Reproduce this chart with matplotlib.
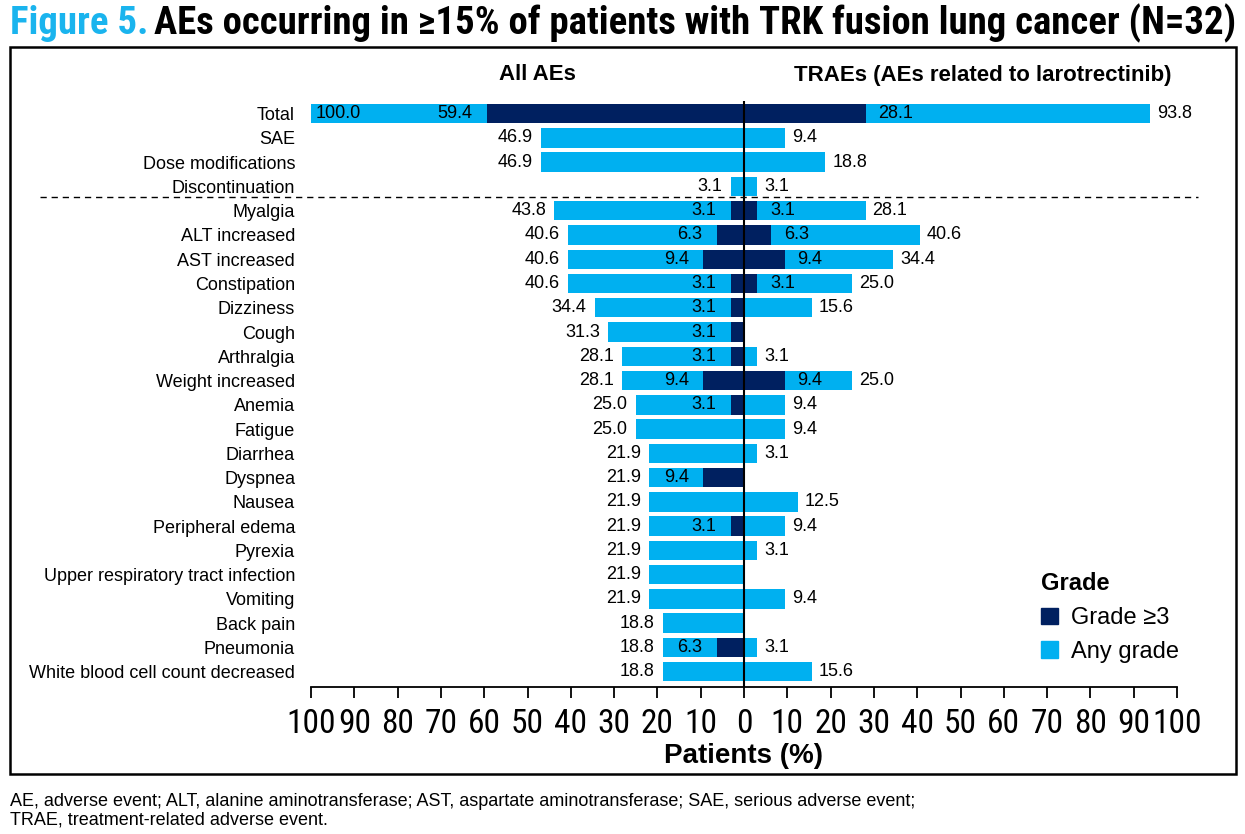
"""Recreate Figure 5: butterfly bar chart of AEs in TRK fusion lung cancer."""

import matplotlib
matplotlib.use("Agg")
import matplotlib.pyplot as plt
from matplotlib import font_manager
from matplotlib.patches import Rectangle, Patch


CATEGORIES = [
    "Total", "SAE", "Dose modifications", "Discontinuation",
    "Myalgia", "ALT increased", "AST increased", "Constipation",
    "Dizziness", "Cough", "Arthralgia", "Weight increased", "Anemia",
    "Fatigue", "Diarrhea", "Dyspnea", "Nausea", "Peripheral edema",
    "Pyrexia", "Upper respiratory tract infection", "Vomiting",
    "Back pain", "Pneumonia", "White blood cell count decreased",
]
ALL_ANY = [100.0, 46.9, 46.9, 3.1, 43.8, 40.6, 40.6, 40.6, 34.4, 31.3, 28.1,
           28.1, 25.0, 25.0, 21.9, 21.9, 21.9, 21.9, 21.9, 21.9, 21.9,
           18.8, 18.8, 18.8]
ALL_G3 = [59.4, 0, 0, 0, 3.1, 6.3, 9.4, 3.1, 3.1, 3.1, 3.1, 9.4, 3.1, 0, 0,
          9.4, 0, 3.1, 0, 0, 0, 0, 6.3, 0]
TR_ANY = [93.8, 9.4, 18.8, 3.1, 28.1, 40.6, 34.4, 25.0, 15.6, 0, 3.1, 25.0,
          9.4, 9.4, 3.1, 0, 12.5, 9.4, 3.1, 0, 9.4, 0, 3.1, 15.6]
TR_G3 = [28.1, 0, 0, 0, 3.1, 6.3, 9.4, 3.1, 0, 0, 0, 9.4, 0, 0, 0, 0, 0, 0,
         0, 0, 0, 0, 0, 0]
TICKS = list(range(-100, 101, 10))
TITLE_HEAD = "Figure 5."
TITLE_REST = "AEs occurring in \u226515% of patients with TRK fusion lung cancer (N=32)"

LIGHT = "#00B0F0"
DARK = "#002060"
TITLE_BLUE = "#1AB4EE"
REGULAR = ["Liberation Sans", "DejaVu Sans"]

installed = {f.name for f in font_manager.fontManager.ttflist}
if "Liberation Sans Narrow" in installed:
    NARROW = ["Liberation Sans Narrow", "DejaVu Sans"]
elif "Roboto Condensed" in installed:
    NARROW = ["Roboto Condensed", "DejaVu Sans"]
else:
    NARROW = REGULAR

plt.rcParams["font.family"] = REGULAR

W, H = 1245, 834
fig = plt.figure(figsize=(12.45, 8.34), dpi=100)
ax = fig.add_axes([311 / W, 1 - 687 / H, 866 / W, 586 / H])

y = list(range(len(CATEGORIES)))
height = 0.8
ax.barh(y, [-v for v in ALL_ANY], height=height, color=LIGHT)
ax.barh(y, [-v for v in ALL_G3], height=height, color=DARK)
ax.barh(y, TR_ANY, height=height, color=LIGHT)
ax.barh(y, TR_G3, height=height, color=DARK)

label_kw = dict(fontsize=13, va="center", textcoords="offset points")
for i in y:
    if ALL_ANY[i] >= 100:
        ax.annotate(f"{ALL_ANY[i]:.1f}", (-ALL_ANY[i], i), xytext=(3, 0),
                    ha="left", **label_kw)
    else:
        ax.annotate(f"{ALL_ANY[i]:.1f}", (-ALL_ANY[i], i), xytext=(-6, 0),
                    ha="right", **label_kw)
    if ALL_G3[i] > 0:
        ax.annotate(f"{ALL_G3[i]:.1f}", (-ALL_G3[i], i), xytext=(-10.5, 0),
                    ha="right", **label_kw)
    if TR_ANY[i] > 0:
        ax.annotate(f"{TR_ANY[i]:.1f}", (TR_ANY[i], i), xytext=(5, 0),
                    ha="left", **label_kw)
    if TR_G3[i] > 0:
        ax.annotate(f"{TR_G3[i]:.1f}", (TR_G3[i], i), xytext=(9, 0),
                    ha="left", **label_kw)

ax.axvline(0, color="black", lw=1.5, zorder=3)
ax.set_xlim(-100, 100)
ax.set_ylim(len(CATEGORIES) - 1 + 0.63, -0.52)
ax.set_yticks(y)
ax.set_yticklabels(CATEGORIES, fontsize=13)
ax.tick_params(axis="y", length=0, pad=11.5)
ax.set_xticks(TICKS)
tick_size = 24 if NARROW != REGULAR else 20
ax.set_xticklabels([str(abs(t)) for t in TICKS], fontsize=tick_size,
                   family=NARROW)
ax.tick_params(axis="x", length=8, width=1.3, pad=7)
ax.spines[["top", "right", "left"]].set_visible(False)
ax.spines["bottom"].set_linewidth(1.3)
ax.set_xlabel("Patients (%)", fontsize=20, fontweight="bold", labelpad=2)

# dashed separator between summary rows and individual AEs
ax.plot([-0.313, 1.024], [3.45, 3.45], transform=ax.get_yaxis_transform(),
        color="black", lw=1, ls=(0, (4.5, 3.5)), clip_on=False)

# panel headers
fig.text(537 / W, 1 - 75 / H, "All AEs", ha="center", va="center",
         fontsize=16, fontweight="bold")
fig.text(983 / W, 1 - 75 / H, "TRAEs (AEs related to larotrectinib)",
         ha="center", va="center", fontsize=16, fontweight="bold")

# legend
ax.legend(
    handles=[Patch(color=DARK, label="Grade \u22653"),
             Patch(color=LIGHT, label="Any grade")],
    title="Grade", loc="upper left", bbox_to_anchor=(1020 / W, 1 - 551 / H),
    bbox_transform=fig.transFigure, frameon=False, fontsize=17,
    title_fontproperties={"weight": "bold", "size": 17},
    handlelength=0.7, handleheight=0.7, handletextpad=0.55, labelspacing=0.5,
    alignment="left",
)

# outer frame
fig.patches.append(Rectangle((10 / W, 1 - 774 / H), 1226 / W, 727 / H,
                             transform=fig.transFigure, fill=False,
                             edgecolor="black", lw=1.8))

# title in two colours, sized to span the frame width
fig.canvas.draw()
renderer = fig.canvas.get_renderer()
title_size = 25
head = fig.text(10 / W, 1 - 23 / H, TITLE_HEAD, color=TITLE_BLUE,
                fontsize=title_size, fontweight="bold", family=NARROW,
                va="center")
rest = fig.text(0, 1 - 23 / H, TITLE_REST, color="black",
                fontsize=title_size, fontweight="bold", family=NARROW,
                va="center")
gap = 6
total = (head.get_window_extent(renderer).width + gap
         + rest.get_window_extent(renderer).width)
title_size = title_size * 1226 / total
head.set_fontsize(title_size)
rest.set_fontsize(title_size)
rest.set_x((head.get_window_extent(renderer).x1 + gap) / W)

# footnote
fig.text(10 / W, 1 - 801 / H,
         "AE, adverse event; ALT, alanine aminotransferase; AST, aspartate "
         "aminotransferase; SAE, serious adverse event;",
         fontsize=13, va="center")
fig.text(10 / W, 1 - 820 / H, "TRAE, treatment-related adverse event.",
         fontsize=13, va="center")

fig.savefig("out.png", dpi=100, facecolor="white")
